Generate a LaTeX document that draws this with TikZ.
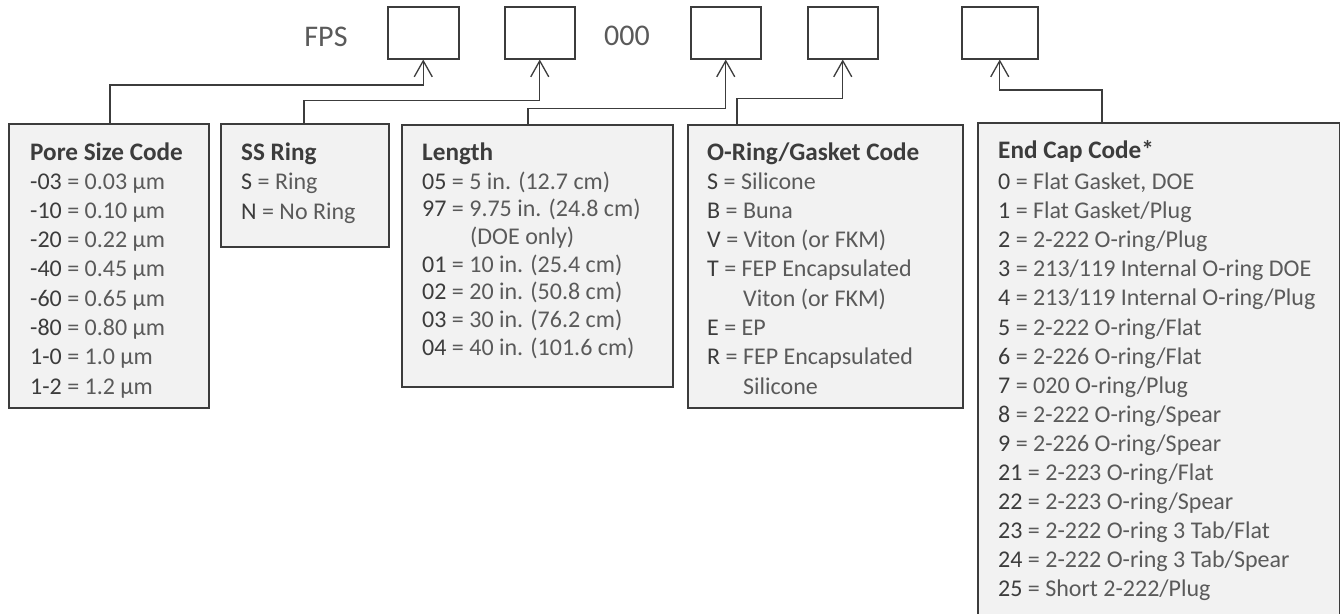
\documentclass[tikz,border=0pt]{standalone}
\usepackage{fontspec}
\setmainfont{Carlito}
\usetikzlibrary{arrows.meta}
\definecolor{ink}{HTML}{3C3C3C}
\definecolor{lite}{HTML}{5A5A5A}
\definecolor{boxfill}{HTML}{F2F2F2}
\newcommand\cd[1]{{\color{ink}#1}}
\begin{document}
\begin{tikzpicture}[x=1pt,y=-1pt,
 slot/.style={draw=ink, line width=1.5pt, minimum height=52pt, inner sep=0, anchor=north west, fill=white},
 codebox/.style={draw=ink, line width=1.5pt, fill=boxfill, inner sep=0, anchor=north west},
 conn/.style={draw=ink, line width=1.3pt},
 arr/.style={conn, -{Straight Barb[length=16pt,width=18pt,line width=1.3pt]}},
 ttl/.style={anchor=base west, inner sep=0, font=\fontsize{25.2pt}{25pt}\selectfont\bfseries, text=ink},
 ent/.style={anchor=base west, inner sep=0, font=\fontsize{24pt}{24pt}\selectfont, text=lite},
 big/.style={anchor=base, inner sep=0, font=\fontsize{30pt}{30pt}\selectfont, text=lite}]
\useasboundingbox (0,0) rectangle (1340,613);
\fill[white] (0,0) rectangle (1340,613);
\clip (0,0) rectangle (1340,613);

% top slots
\node[big] (fps) at (326,46) {FPS};
\node[big] (zeros) at (627,45) {000};
\node[slot, minimum width=71pt] (b1) at (387,6) {};
\node[slot, minimum width=70pt] (b2) at (504,6) {};
\node[slot, minimum width=70pt] (b3) at (690,6) {};
\node[slot, minimum width=70pt] (b4) at (807,6) {};
\node[slot, minimum width=76pt] (b5) at (961,6) {};

% code boxes
\node[codebox, minimum width=200pt, minimum height=284pt] (pore) at (8,123) {};
\node[codebox, minimum width=168pt, minimum height=123pt] (ss) at (220,123) {};
\node[codebox, minimum width=271pt, minimum height=262pt] (len) at (401,124) {};
\node[codebox, minimum width=275pt, minimum height=283pt] (oring) at (687,124) {};
\node[codebox, minimum width=362pt, minimum height=520pt] (endcap) at (977,122) {};

% connectors
\draw[arr] ([xshift=102pt]pore.north west) |- (b1.south |- 0,85) -- (b1.south);
\draw[arr] ([xshift=84pt]ss.north west) |- (b2.south |- 0,100.7) -- (b2.south);
\draw[arr] ([xshift=127pt]len.north west) |- (b3.south |- 0,108.7) -- (b3.south);
\draw[arr] ([xshift=50pt]oring.north west) |- (b4.south |- 0,98.7) -- (b4.south);
\draw[arr] ([xshift=125pt]endcap.north west) |- (b5.south |- 0,90) -- (b5.south);

% Pore Size Code
\node[ttl] (pt) at (30,160) {Pore Size Code};
\node[ent] (p1) at (30,189.0) {\cd{-03} = 0.03 µm};
\node[ent] (p2) at (30,218.3) {\cd{-10} = 0.10 µm};
\node[ent] (p3) at (30,247.6) {\cd{-20} = 0.22 µm};
\node[ent] (p4) at (30,276.9) {\cd{-40} = 0.45 µm};
\node[ent] (p5) at (30,306.2) {\cd{-60} = 0.65 µm};
\node[ent] (p6) at (30,335.5) {\cd{-80} = 0.80 µm};
\node[ent] (p7) at (30,364.8) {\cd{1-0} = 1.0 µm};
\node[ent] (p8) at (30,394.1) {\cd{1-2} = 1.2 µm};

% SS Ring
\node[ttl] (st) at (241,160) {SS Ring};
\node[ent] (s1) at (241,189.5) {\cd{S} = Ring};
\node[ent] (s2) at (241,219.0) {\cd{N} = No Ring};

% Length
\node[ttl] (lt) at (422,160) {Length};
\node[ent] (l1) at (422,189.0) {\cd{05} = 5 in. (12.7 cm)};
\node[ent] (l2) at (422,216.7) {\cd{97} = 9.75 in. (24.8 cm)};
\node[ent] (l3) at (470,244.4) {(DOE only)};
\node[ent] (l4) at (422,272.1) {\cd{01} = 10 in. (25.4 cm)};
\node[ent] (l5) at (422,299.8) {\cd{02} = 20 in. (50.8 cm)};
\node[ent] (l6) at (422,327.5) {\cd{03} = 30 in. (76.2 cm)};
\node[ent] (l7) at (422,355.2) {\cd{04} = 40 in. (101.6 cm)};

% O-Ring/Gasket Code
\node[ttl] (ot) at (707,160) {O-Ring/Gasket Code};
\node[ent] (o1) at (707,189.0) {\cd{S} = Silicone};
\node[ent] (o2) at (707,218.3) {\cd{B} = Buna};
\node[ent] (o3) at (707,247.6) {\cd{V} = Viton (or FKM)};
\node[ent] (o4) at (707,276.9) {\cd{T} = FEP Encapsulated};
\node[ent] (o5) at (743,306.2) {Viton (or FKM)};
\node[ent] (o6) at (707,335.5) {\cd{E} = EP};
\node[ent] (o7) at (707,364.8) {\cd{R} = FEP Encapsulated};
\node[ent] (o8) at (743,394.1) {Silicone};

% End Cap Code
\node[ttl] (et) at (998,158) {End Cap Code*};
\node[ent] (e1) at (998,189.5) {\cd{0} = Flat Gasket, DOE};
\node[ent] (e2) at (998,218.6) {\cd{1} = Flat Gasket/Plug};
\node[ent] (e3) at (998,247.7) {\cd{2} = 2-222 O-ring/Plug};
\node[ent] (e4) at (998,276.8) {\cd{3} = 213/119 Internal O-ring DOE};
\node[ent] (e5) at (998,305.9) {\cd{4} = 213/119 Internal O-ring/Plug};
\node[ent] (e6) at (998,335.0) {\cd{5} = 2-222 O-ring/Flat};
\node[ent] (e7) at (998,364.1) {\cd{6} = 2-226 O-ring/Flat};
\node[ent] (e8) at (998,393.2) {\cd{7} = 020 O-ring/Plug};
\node[ent] (e9) at (998,422.3) {\cd{8} = 2-222 O-ring/Spear};
\node[ent] (e10) at (998,451.4) {\cd{9} = 2-226 O-ring/Spear};
\node[ent] (e11) at (998,480.5) {\cd{21} = 2-223 O-ring/Flat};
\node[ent] (e12) at (998,509.6) {\cd{22} = 2-223 O-ring/Spear};
\node[ent] (e13) at (998,538.7) {\cd{23} = 2-222 O-ring 3 Tab/Flat};
\node[ent] (e14) at (998,567.8) {\cd{24} = 2-222 O-ring 3 Tab/Spear};
\node[ent] (e15) at (998,596.9) {\cd{25} = Short 2-222/Plug};
\end{tikzpicture}
\end{document}
